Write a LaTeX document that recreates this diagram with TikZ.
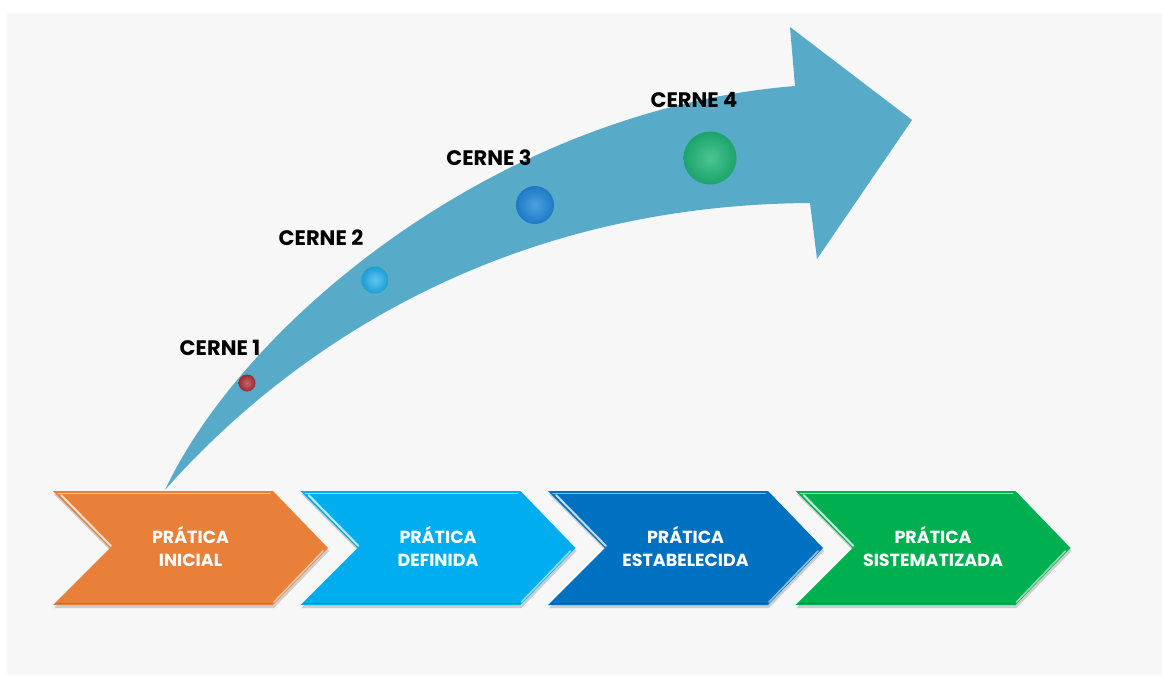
\documentclass[tikz,border=0pt]{standalone}
\usepackage{fontspec}
\setmainfont{Poppins}
\definecolor{bgray}{HTML}{F7F7F7}
\definecolor{arrowc}{RGB}{87,171,200}
\definecolor{corange}{HTML}{E8803A}
\definecolor{clblue}{HTML}{00AEEF}
\definecolor{cblue}{HTML}{0070C0}
\definecolor{cgreen}{HTML}{00B050}
\definecolor{cred}{HTML}{B7303A}
\definecolor{cball2}{HTML}{1EAEEA}
\definecolor{cball3}{HTML}{2088DA}
\definecolor{cball4}{HTML}{1FB677}
\tikzset{
  lab/.style={anchor=base, inner sep=0pt, font=\fontsize{21}{24}\selectfont\bfseries, text=black},
  ctext/.style={align=center, inner sep=0pt, text=white, font=\fontsize{17.5}{23}\selectfont\bfseries},
  ballnode/.style={circle, inner sep=0pt, minimum size=#1},
}
\begin{document}
\begin{tikzpicture}[x=1pt,y=-1pt]
\useasboundingbox (0,0) rectangle (1162,675);
\fill[white] (0,0) rectangle (1162,675);
\fill[bgray] (7,13) rectangle (1162,675);

% curved arrow
\fill[arrowc] (165,490) .. controls (245,320) and (500,110) .. (795,86)
  -- (790,27) -- (912,120) -- (817,259) -- (810,203)
  .. controls (490,205) and (280,360) .. (165,490) -- cycle;

% chevrons
\foreach \i/\col/\la/\lb in {0/corange/PRÁTICA/INICIAL,1/clblue/PRÁTICA/DEFINIDA,2/cblue/PRÁTICA/ESTABELECIDA,3/cgreen/PRÁTICA/SISTEMATIZADA}{
  \pgfmathsetmacro{\xo}{53+247.5*\i}
  \begin{scope}[shift={(\xo,0)}]
    \fill[black!30, opacity=.6] (1,494) -- (221,494) -- (276,551) -- (221,608) -- (1,608) -- (58,551) -- cycle;
    \fill[\col] (0,491) -- (220,491) -- (275,548) -- (220,605) -- (0,605) -- (57,548) -- cycle;
    \draw[white, opacity=.55, line width=1.6pt, line cap=round] (5,493.5) -- (217,493.5);
    \draw[white, opacity=.75, line width=2pt, line cap=round] (8,495) -- (58,546);
    \draw[white, opacity=.55, line width=1.6pt, line cap=round] (270,551) -- (221,602);
    \draw[\col!70!black, opacity=.5, line width=1pt] (2,603.5) -- (219,603.5);
    \node[ctext] (p\i) at (137.5,546.5) {\la\\\lb};
  \end{scope}
}

% balls
\node[ballnode=17pt, shading=radial, inner color=cred!75!white, outer color=cred!85!black] (c1) at (247,383) {};
\node[ballnode=27pt, shading=radial, inner color=cball2!70!white, outer color=cball2!90!black] (c2) at (375,280) {};
\node[ballnode=38pt, shading=radial, inner color=cball3!80!white, outer color=cball3!90!black] (c3) at (535,205) {};
\node[ballnode=53pt, shading=radial, inner color=cball4!80!white, outer color=cball4!90!black] (c4) at (710,158) {};

% labels
\node[lab] (l1) at (220,355) {CERNE 1};
\node[lab] (l2) at (321,245) {CERNE 2};
\node[lab] (l3) at (489,165) {CERNE 3};
\node[lab] (l4) at (694,107) {CERNE 4};
\end{tikzpicture}
\end{document}
